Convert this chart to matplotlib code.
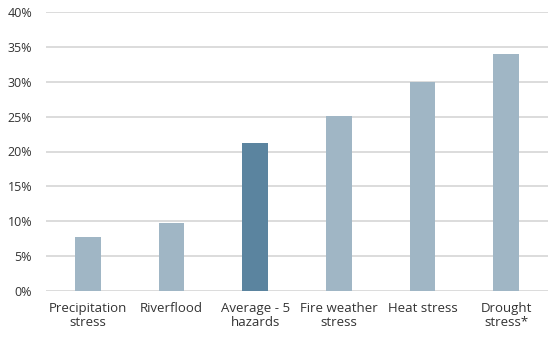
import matplotlib.pyplot as plt
from matplotlib.ticker import PercentFormatter

categories = ["Precipitation\nstress", "Riverflood", "Average - 5\nhazards",
              "Fire weather\nstress", "Heat stress", "Drought\nstress*"]
values = [7.8, 9.8, 21.2, 25.1, 29.9, 34.0]
highlight = "Average - 5\nhazards"

light = "#A0B6C5"
dark = "#5B849F"
colors = [dark if c == highlight else light for c in categories]

plt.rcParams['font.family'] = ['Open Sans', 'DejaVu Sans']

fig = plt.figure(figsize=(5.58, 3.46), dpi=100)
ax = fig.add_axes([46/558, 55/346, 502/558, 279/346])

x = range(len(categories))
ax.bar(x, values, width=0.31, color=colors, zorder=3)

ax.set_xlim(-0.5, len(categories) - 0.5)
ax.set_ylim(0, 40)
ax.set_yticks(range(0, 41, 5))
ax.yaxis.set_major_formatter(PercentFormatter(decimals=0))
ax.set_xticks(list(x))
ax.set_xticklabels(categories, fontsize=9.5, color="#333333", linespacing=1.1)
ax.tick_params(axis='y', labelsize=9, labelcolor="#333333", length=0, pad=10)
ax.tick_params(axis='x', length=0, pad=8)

ax.grid(axis='y', color="#D9D9D9", linewidth=1.3, zorder=0)
for s in ax.spines.values():
    s.set_visible(False)

fig.savefig("out.png", dpi=100)
